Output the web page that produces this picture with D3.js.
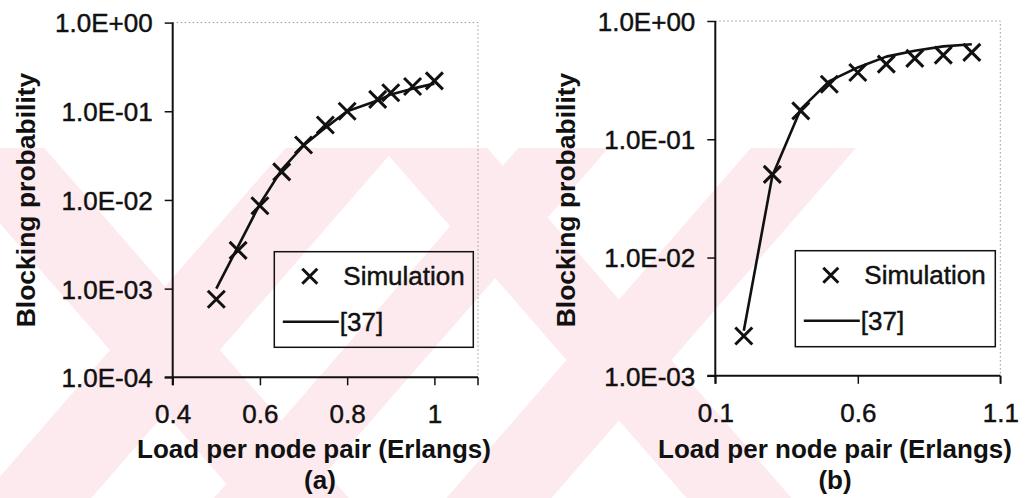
<!DOCTYPE html>
<html>
<head>
<meta charset="utf-8">
<script src="https://cdn.jsdelivr.net/npm/d3@7"></script>
<style>
  html, body { margin: 0; padding: 0; background: #ffffff; }
  svg { display: block; }
  text { font-family: "Liberation Sans", Arial, sans-serif; fill: #111; }
</style>
</head>
<body>
<svg id="chart" width="1027" height="498"></svg>
<script>
// ---------- data ----------
const loadA = [0.5, 0.55, 0.6, 0.65, 0.7, 0.75, 0.8, 0.87, 0.9, 0.95, 1.0];
const simA  = [7.6e-4, 2.7e-3, 8.6e-3, 0.0207, 0.0417, 0.07, 0.10, 0.136, 0.162, 0.19, 0.22];
const refA  = [1.0e-3, 3.0e-3, 9.0e-3, 0.022, 0.041, 0.065, 0.10, 0.132, 0.155, 0.18, 0.205];

const loadB = [0.2, 0.3, 0.4, 0.5, 0.6, 0.7, 0.8, 0.9, 1.0];
const simB  = [2.17e-3, 0.0505, 0.174, 0.292, 0.367, 0.432, 0.483, 0.515, 0.543];
const refB  = [2.4e-3, 0.049, 0.18, 0.31, 0.405, 0.50, 0.56, 0.61, 0.635];

const xTicksA = [0.4, 0.6, 0.8, 1.0];
const xTickLabelsA = ["0.4", "0.6", "0.8", "1"];
const yTicksA = [1e-4, 1e-3, 1e-2, 1e-1, 1];
const xTicksB = [0.1, 0.6, 1.1];
const xTickLabelsB = ["0.1", "0.6", "1.1"];
const yTicksB = [1e-3, 1e-2, 1e-1, 1];
const yTickLabel = {1e-4: "1.0E-04", 1e-3: "1.0E-03", 1e-2: "1.0E-02", 1e-1: "1.0E-01", 1: "1.0E+00"};

const legendLabels = ["Simulation", "[37]"];
const xTitle = "Load per node pair (Erlangs)";
const yTitle = "Blocking probability";
const panelLabels = ["(a)", "(b)"];

// ---------- watermark (decorative background) ----------
const svg = d3.select("#chart");
const pink = "#fdeaee";
const wm = svg.append("g");
wm.append("clipPath").attr("id", "wmclip").append("rect")
  .attr("x", 0).attr("y", 148).attr("width", 860).attr("height", 350);
const wmg = wm.append("g").attr("clip-path", "url(#wmclip)");
function band(cx, cy, dir, w) {
  const s = 1.15, y0 = 100, y1 = 560;
  const xa = cx + dir * (y0 - cy) / s, xb = cx + dir * (y1 - cy) / s;
  return [[xa - w/2, y0], [xa + w/2, y0], [xb + w/2, y1], [xb - w/2, y1]];
}
const bands = [
  band(165, 350, 1, 110), band(165, 350, -1, 110),
  band(619, 360, 1, 105), band(619, 360, -1, 105),
  band(-290, 345, -1, 110), band(392, 345, -1, 90)
];
wmg.selectAll("polygon").data(bands).join("polygon")
  .attr("points", d => d.map(p => p.join(",")).join(" "))
  .attr("fill", pink);

// ---------- panels ----------
const panels = [
  { load: loadA, sim: simA, ref: refA, xDom: [0.4, 1.1], xR: [172.7, 478], yDom: [1e-4, 1], yR: [377.3, 22.6],
    xTicks: xTicksA, xLabels: xTickLabelsA, yTicks: yTicksA,
    legend: { x: 274.3, y: 251.7, w: 199, h: 95.6 },
    yTitleX: 35, xTitleCx: 314, labelCx: 320, label: panelLabels[0] },
  { load: loadB, sim: simB, ref: refB, xDom: [0.1, 1.1], xR: [715.3, 1000.3], yDom: [1e-3, 1], yR: [375.8, 21],
    xTicks: xTicksB, xLabels: xTickLabelsB, yTicks: yTicksB,
    legend: { x: 795.3, y: 250.7, w: 200, h: 96 },
    yTitleX: 575, xTitleCx: 835, labelCx: 835, label: panelLabels[1] }
];

panels.forEach(p => {
  const g = svg.append("g");
  const x = d3.scaleLinear().domain(p.xDom).range(p.xR);
  const y = d3.scaleLog().domain(p.yDom).range(p.yR);
  const [L, R] = p.xR, [B, T] = p.yR;

  g.append("path").attr("d", `M${L},${T}H${R}V${B}`)
    .attr("fill", "none").attr("stroke", "#999").attr("stroke-width", 1)
    .attr("stroke-dasharray", "1.5,2.5");

  const xAxis = d3.axisBottom(x).tickValues(p.xTicks).tickSize(8)
    .tickFormat((d, i) => p.xLabels[i]);
  const gx = g.append("g").attr("transform", `translate(0,${B})`).call(xAxis);
  gx.attr("font-size", null).attr("font-family", null);
  gx.select(".domain").attr("d", `M${L - 8},0H${R}`).attr("stroke", "#111").attr("stroke-width", 2);
  gx.selectAll(".tick line").attr("stroke", "#111").attr("stroke-width", 1.5);
  gx.selectAll(".tick text").attr("y", 46).attr("dy", 0)
    .style("font-size", "26px").style("fill", "#111")
    .style("stroke", "#111").style("stroke-width", "0.45px");
  g.append("line").attr("x1", R).attr("x2", R).attr("y1", B).attr("y2", B + 8)
    .attr("stroke", "#111").attr("stroke-width", 1.5);

  const yAxis = d3.axisLeft(y).tickValues(p.yTicks).tickSize(8)
    .tickFormat(d => yTickLabel[d]);
  const gy = g.append("g").attr("transform", `translate(${L},0)`).call(yAxis);
  gy.attr("font-size", null).attr("font-family", null);
  gy.select(".domain").attr("d", `M0,${T}V${B + 8}`).attr("stroke", "#111").attr("stroke-width", 2);
  gy.selectAll(".tick line").attr("stroke", "#111").attr("stroke-width", 1.5);
  gy.selectAll(".tick text").attr("x", -20).attr("dy", "0.36em")
    .style("font-size", "26px").style("fill", "#111")
    .style("stroke", "#111").style("stroke-width", "0.45px");

  const line = d3.line().x((d, i) => x(p.load[i])).y(d => y(d));
  g.append("path").datum(p.ref).attr("d", line)
    .attr("fill", "none").attr("stroke", "#111").attr("stroke-width", 2.6)
    .attr("stroke-linejoin", "round");

  const m = 8.5;
  g.selectAll(".mk").data(p.sim).join("path").attr("class", "mk")
    .attr("d", (d, i) => {
      const cx = x(p.load[i]), cy = y(d);
      return `M${cx - m},${cy - m}L${cx + m},${cy + m}M${cx - m},${cy + m}L${cx + m},${cy - m}`;
    })
    .attr("stroke", "#111").attr("stroke-width", 3);

  const lg = p.legend;
  g.append("rect").attr("x", lg.x).attr("y", lg.y).attr("width", lg.w).attr("height", lg.h)
    .attr("fill", "none").attr("stroke", "#111").attr("stroke-width", 1.5);
  const mx = lg.x + 35.5, my = lg.y + 24.5, lm = 7.5;
  g.append("path")
    .attr("d", `M${mx - lm},${my - lm}L${mx + lm},${my + lm}M${mx - lm},${my + lm}L${mx + lm},${my - lm}`)
    .attr("stroke", "#111").attr("stroke-width", 3);
  g.append("text").attr("x", lg.x + 69).attr("y", lg.y + 33.5)
    .style("font-size", "26px").style("stroke", "#111").style("stroke-width", "0.45px")
    .text(legendLabels[0]);
  g.append("line").attr("x1", lg.x + 8.5).attr("x2", lg.x + 64.5)
    .attr("y1", lg.y + 70).attr("y2", lg.y + 70)
    .attr("stroke", "#111").attr("stroke-width", 2.6);
  g.append("text").attr("x", lg.x + 65.5).attr("y", lg.y + 79)
    .style("font-size", "26px").style("stroke", "#111").style("stroke-width", "0.45px")
    .text(legendLabels[1]);

  g.append("text").attr("x", p.xTitleCx).attr("y", 458).attr("text-anchor", "middle")
    .style("font-size", "26px").style("font-weight", "bold").text(xTitle);
  g.append("text").attr("transform", `translate(${p.yTitleX},200) rotate(-90)`)
    .attr("text-anchor", "middle")
    .style("font-size", "26.5px").style("font-weight", "bold").text(yTitle);
  g.append("text").attr("x", p.labelCx).attr("y", 489)
    .attr("text-anchor", "middle")
    .style("font-size", "26px").style("font-weight", "bold").text(p.label);
});
</script>
</body>
</html>
